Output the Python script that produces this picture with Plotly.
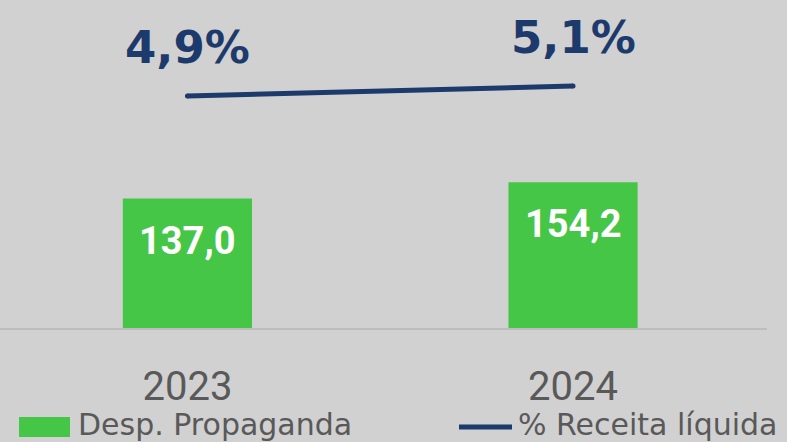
import plotly.graph_objects as go

# ---- data ----
categories = ["2023", "2024"]
desp_propaganda = [137.0, 154.2]
receita_pct = [4.9, 5.1]
bar_labels = ["137,0", "154,2"]
pct_labels = ["4,9%", "5,1%"]
series_names = ["Desp. Propaganda", "% Receita líquida"]

GREEN = "#46c646"
NAVY = "#1d3a6c"
BG = "#d1d1d1"
GREY_TXT = "#595959"
FONT = "Roboto"
FONT_WIDE = "DejaVu Sans"

W, H = 787, 442
ML, MR, MT, MB = 0, 20, 0, 114
PW = W - ML - MR
PH = H - MT - MB


def px_x(p):
    return (p - ML) / PW


def px_y(p):
    return (MT + PH - p) / PH


fig = go.Figure()
fig.add_bar(x=categories, y=desp_propaganda, name=series_names[0],
            marker=dict(color=GREEN, line=dict(width=0)), width=0.335,
            yaxis="y", showlegend=False, hoverinfo="skip")
fig.add_scatter(x=categories, y=receita_pct, name=series_names[1],
                mode="lines+markers", line=dict(color=NAVY, width=5),
                marker=dict(color=NAVY, size=5), yaxis="y2",
                showlegend=False, hoverinfo="skip")

annotations = []
for i, (v, t) in enumerate(zip(desp_propaganda, bar_labels)):
    annotations.append(dict(x=i, y=v, xref="x", yref="y", text=t, showarrow=False,
                            yshift=-42, yanchor="middle",
                            font=dict(family=FONT, size=38, color="white", weight="bold")))
for i, (v, t) in enumerate(zip(receita_pct, pct_labels)):
    annotations.append(dict(x=i, y=v, xref="x", yref="y2", text=t, showarrow=False,
                            yshift=49, yanchor="middle",
                            font=dict(family=FONT_WIDE, size=45, color=NAVY, weight="bold")))

# manual legend
shapes = [
    dict(type="rect", xref="paper", yref="paper", x0=px_x(19), x1=px_x(70),
         y0=px_y(437), y1=px_y(417), fillcolor=GREEN, line=dict(width=0)),
    dict(type="line", xref="paper", yref="paper", x0=px_x(459), x1=px_x(512),
         y0=px_y(427), y1=px_y(427), line=dict(color=NAVY, width=5)),
]
annotations.append(dict(xref="paper", yref="paper", x=px_x(76), y=px_y(424),
                        xanchor="left", yanchor="middle", text=series_names[0],
                        showarrow=False, font=dict(family=FONT_WIDE, size=30, color=GREY_TXT)))
annotations.append(dict(xref="paper", yref="paper", x=px_x(516), y=px_y(424),
                        xanchor="left", yanchor="middle", text=series_names[1],
                        showarrow=False, font=dict(family=FONT_WIDE, size=30, color=GREY_TXT)))

fig.update_layout(
    width=W, height=H,
    margin=dict(l=ML, r=MR, t=MT, b=MB),
    paper_bgcolor=BG, plot_bgcolor=BG,
    font=dict(family=FONT),
    xaxis=dict(type="category", range=[-0.486, 1.503], showline=True,
               linecolor="#bdbdbd", linewidth=2, showgrid=False, zeroline=False,
               ticks="", ticklabelstandoff=22,
               tickfont=dict(family=FONT, size=40, color=GREY_TXT)),
    yaxis=dict(range=[0, 347], visible=False, showgrid=False, zeroline=False),
    yaxis2=dict(range=[0.26, 6.82], overlaying="y", visible=False,
                showgrid=False, zeroline=False),
    shapes=shapes,
    annotations=annotations,
    showlegend=False,
)

fig.write_html("out.html", config={"displayModeBar": False},
               post_script="document.body.style.margin='0';document.body.style.background='#d1d1d1';")
